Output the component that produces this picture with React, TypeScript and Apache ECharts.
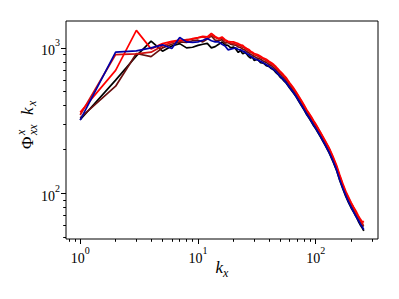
import React, { useEffect, useRef } from 'react';
import * as echarts from 'echarts';

// wavenumbers
const kx = [1, 2, 3, 4, 5, 6, 7, 8, 9, 10, 11, 12, 13, 14, 15, 16, 17, 18, 19, 20,
  21, 22, 23, 24, 25, 26, 27, 28, 29, 30, 32, 34, 36, 38, 40, 42, 44, 46, 48, 50,
  52, 54, 56, 58, 60, 64, 68, 72, 76, 80, 84, 88, 92, 96, 100,
  110, 120, 130, 140, 150, 160, 170, 180, 190, 200, 210, 220, 230, 240, 250, 256];

const blackVals = [320, 600, 880, 1115, 950, 1030, 1070, 1000, 1010, 1040, 1060, 1075, 1000, 1020, 1060, 1100, 1050, 1040, 1000, 1015,
  980, 930, 960, 910, 930, 905, 870, 850, 865, 820, 835, 790, 785, 755, 745, 720, 705, 676, 655, 628,
  612, 590, 573, 550, 530, 495, 462, 427, 398, 371, 346, 327, 309, 291, 277,
  243, 214, 189, 165, 144, 122, 107, 95, 86, 79, 74, 69, 64, 60, 57, 55];

const maroonVals = [330, 545, 915, 870, 1000, 1060, 1100, 1090, 1120, 1130, 1100, 1150, 1210, 1130, 1120, 1140, 1080, 1090, 1060, 1050,
  1045, 1015, 1005, 980, 968, 940, 928, 900, 890, 872, 850, 835, 810, 795, 770, 755, 730, 708, 680, 658,
  635, 618, 595, 575, 550, 516, 479, 445, 414, 386, 359, 341, 321, 303, 288,
  252, 222, 197, 172, 149, 127, 111, 99, 90, 83, 77, 72, 67, 63, 60, 59];

const darkRedVals = [345, 900, 910, 935, 1030, 1090, 1120, 1140, 1150, 1170, 1190, 1160, 1230, 1180, 1150, 1170, 1120, 1100, 1080, 1075,
  1060, 1045, 1030, 1010, 995, 970, 955, 930, 918, 898, 880, 855, 838, 815, 795, 772, 755, 728, 700, 676,
  655, 634, 612, 590, 566, 530, 493, 457, 426, 396, 369, 350, 330, 311, 296,
  259, 228, 202, 176, 153, 131, 114, 101, 92, 85, 79, 73, 68, 64, 61, 61];

const redVals = [360, 700, 1320, 985, 1070, 1110, 1130, 1120, 1160, 1180, 1200, 1190, 1260, 1200, 1160, 1190, 1140, 1110, 1100, 1100,
  1085, 1070, 1050, 1040, 1010, 990, 975, 950, 935, 915, 900, 875, 850, 835, 810, 790, 768, 742, 715, 688,
  668, 645, 625, 600, 575, 538, 500, 463, 432, 402, 374, 354, 334, 315, 299,
  262, 231, 205, 179, 156, 133, 116, 103, 94, 86, 80, 75, 70, 66, 63, 64];

const blueVals = [318, 935, 955, 1000, 1050, 990, 1180, 1100, 1090, 1100, 1130, 1160, 1120, 1100, 1100, 1060, 1030, 970, 980, 990,
  1000, 975, 970, 950, 935, 912, 900, 875, 860, 845, 825, 808, 787, 768, 748, 728, 708, 686, 660, 636,
  616, 597, 577, 556, 533, 499, 465, 431, 401, 374, 349, 330, 311, 294, 279,
  245, 216, 191, 167, 145, 123, 108, 96, 87, 80, 74, 69, 65, 61, 58, 56];

const seriesList = [
  { name: 'black', color: '#000000', values: blackVals },
  { name: 'maroon', color: '#6a1010', values: maroonVals },
  { name: 'darkred', color: '#d01010', values: darkRedVals },
  { name: 'red', color: '#ff0000', values: redVals },
  { name: 'blue', color: '#0000a8', values: blueVals },
];

const xMajor = [1, 10, 100];
const xMinor = [0.8, 0.9, 2, 3, 4, 5, 6, 7, 8, 9, 20, 30, 40, 50, 60, 70, 80, 90, 200, 300];
const yMajor = [100, 1000];
const yMinor = [50, 60, 70, 80, 90, 200, 300, 400, 500, 600, 700, 800, 900];

const X_MIN = 0.758;
const X_MAX = 337.8;
const Y_MIN = 48.3;
const Y_MAX = 1532;

const SERIF = '"Liberation Serif", "DejaVu Serif", serif';

const supLabel = (v: number) => `{b|10}{s|${Math.round(Math.log10(v))}}`;
const tickRich = {
  b: { fontFamily: SERIF, fontSize: 14, color: '#000', lineHeight: 20, verticalAlign: 'bottom' },
  s: { fontFamily: SERIF, fontSize: 10, color: '#000', lineHeight: 12, verticalAlign: 'top' },
};

export default function App() {
  const ref = useRef<HTMLDivElement>(null);
  useEffect(() => {
    if (!ref.current) return;
    const chart = echarts.init(ref.current, null, { renderer: 'svg' });
    const axisCommon = {
      type: 'log' as const,
      logBase: 10,
      splitLine: { show: false },
    };
    chart.setOption({
      animation: false,
      backgroundColor: '#fff',
      grid: {
        left: 66, top: 21, right: 21, bottom: 60,
        show: true, borderColor: '#000', borderWidth: 1, backgroundColor: 'transparent',
      },
      xAxis: [
        {
          ...axisCommon, min: X_MIN, max: X_MAX, position: 'bottom',
          axisLine: { show: false },
          axisTick: { show: true, inside: false, length: 5, customValues: xMajor, lineStyle: { color: '#000', width: 1 } },
          axisLabel: { customValues: xMajor, formatter: supLabel, margin: 6, rich: tickRich },
          name: '{k|k}{x|x}', nameLocation: 'middle', nameGap: 20, nameMoveOverlap: false,
          nameTextStyle: {
            rich: {
              k: { fontFamily: SERIF, fontStyle: 'italic', fontSize: 17, color: '#000', lineHeight: 20, verticalAlign: 'top' },
              x: { fontFamily: SERIF, fontStyle: 'italic', fontSize: 12, color: '#000', lineHeight: 14, verticalAlign: 'bottom' },
            },
          },
        },
        {
          ...axisCommon, min: X_MIN, max: X_MAX, position: 'bottom',
          axisLine: { show: false },
          axisTick: { show: true, inside: false, length: 2.8, customValues: xMinor, lineStyle: { color: '#000', width: 1 } },
          axisLabel: { show: false },
        },
      ],
      yAxis: [
        {
          ...axisCommon, min: Y_MIN, max: Y_MAX, position: 'left',
          axisLine: { show: false },
          axisTick: { show: true, inside: false, length: 5, customValues: yMajor, lineStyle: { color: '#000', width: 1 } },
          axisLabel: { customValues: yMajor, formatter: supLabel, margin: 6, rich: tickRich },
        },
        {
          ...axisCommon, min: Y_MIN, max: Y_MAX, position: 'left',
          axisLine: { show: false },
          axisTick: { show: true, inside: false, length: 2.8, customValues: yMinor, lineStyle: { color: '#000', width: 1 } },
          axisLabel: { show: false },
        },
      ],
      series: seriesList.map((s) => ({
        name: s.name,
        type: 'line',
        xAxisIndex: 0,
        yAxisIndex: 0,
        showSymbol: false,
        symbol: 'none',
        lineStyle: { color: s.color, width: 1.7 },
        itemStyle: { color: s.color },
        data: kx.map((k, i) => [k, s.values[i]]),
      })),
      graphic: [
        {
          type: 'group',
          x: 27,
          y: 119,
          rotation: Math.PI / 2,
          children: [
            { type: 'text', x: -30, y: 0, style: { text: 'Φ', font: `17px ${SERIF}`, fill: '#000', verticalAlign: 'middle', align: 'left' } },
            { type: 'text', x: -16, y: -6, style: { text: 'x', font: `italic 12px ${SERIF}`, fill: '#000', verticalAlign: 'middle', align: 'left' } },
            { type: 'text', x: -16, y: 6, style: { text: 'xx', font: `italic 12px ${SERIF}`, fill: '#000', verticalAlign: 'middle', align: 'left' } },
            { type: 'text', x: 4, y: 0, style: { text: 'k', font: `italic 17px ${SERIF}`, fill: '#000', verticalAlign: 'middle', align: 'left' } },
            { type: 'text', x: 13, y: 5, style: { text: 'x', font: `italic 12px ${SERIF}`, fill: '#000', verticalAlign: 'middle', align: 'left' } },
          ],
        },
      ],
    });
    return () => chart.dispose();
  }, []);
  return <div ref={ref} style={{ position: 'fixed', left: 0, top: 0, width: 399, height: 299 }} />;
}
